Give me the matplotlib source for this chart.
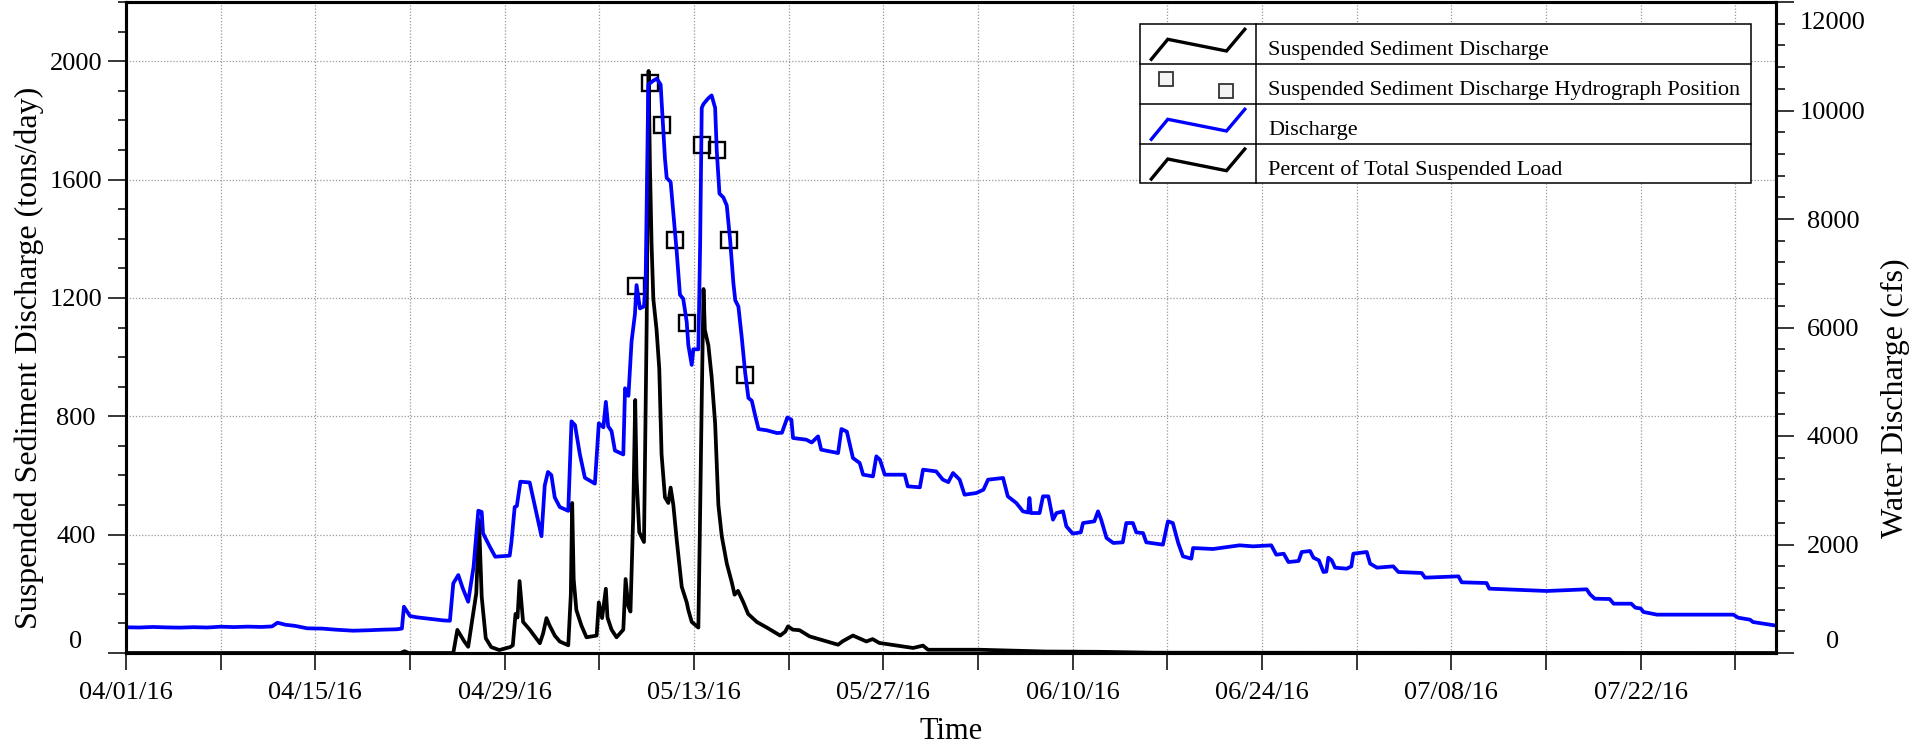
import numpy as np
import pandas as pd
import matplotlib
matplotlib.use("Agg")
import matplotlib.pyplot as plt
import matplotlib.dates as mdates
from matplotlib.ticker import FixedLocator, MultipleLocator, FuncFormatter
from matplotlib.lines import Line2D
from matplotlib.patches import Rectangle

plt.rcParams['font.family'] = ['Liberation Serif', 'DejaVu Serif']

# ---------------- data ----------------
start_date = pd.Timestamp('2016-04-01')
end_date = pd.Timestamp('2016-08-01')

# Water discharge (cfs): days since 04/01/16, value
q_days = [0, 1, 2, 3, 4, 5, 6, 7, 8, 9, 10, 10.8, 11.2, 11.8, 12.5, 13.4, 14.5, 15.5, 16.8, 18, 19, 20,
          20.4, 20.55, 20.8, 21, 21.5, 22.5, 23.5, 23.95, 24.2, 24.57, 24.9, 25.3, 25.7, 26.05, 26.3, 26.4,
          26.9, 27.3, 28.37, 28.5, 28.74, 28.9, 29.16, 29.85, 30.72, 30.96, 31.2, 31.45, 31.7, 32.07, 32.7,
          32.94, 33.2, 33.56, 33.93, 34.67, 34.96, 35.3, 35.48, 35.65, 35.9, 36.15, 36.77, 36.9, 37.15,
          37.38, 37.63, 37.75, 38.0, 38.3, 38.42, 38.62, 38.99, 39.25, 39.53, 39.85, 39.98, 40.27, 40.47,
          40.72, 40.96, 41.2, 41.46, 41.58, 41.83, 41.95, 42.32, 42.45, 42.57, 42.7, 43.06, 43.3, 43.56,
          43.68, 43.88, 44.17, 44.42, 44.67, 44.91, 45.05, 45.28, 45.53, 45.78, 46.02, 46.27, 46.52, 46.77,
          47.38, 48.12, 48.5, 48.9, 49.2, 49.32, 50.3, 50.7, 51.17, 51.4, 52.65, 52.9, 53.3, 53.75, 54.25,
          54.5, 55.23, 55.48, 55.75, 56.1, 57.58, 57.8, 58.7, 58.93, 59.9, 60.4, 60.8, 61.15, 61.64, 62.0,
          62.87, 63.4, 63.74, 64.85, 65.2, 65.83, 66.32, 66.7, 66.8, 66.9, 67.55, 67.8, 68.2, 68.54, 68.8,
          69.28, 69.53, 70.0, 70.6, 70.76, 71.6, 71.87, 72.1, 72.5, 73.0, 73.7, 73.96, 74.45, 74.7, 75.2,
          75.44, 76.67, 77.04, 77.4, 77.8, 78.15, 78.77, 78.9, 80.37, 82.34, 83.33, 84.68, 85.05, 85.6,
          85.95, 86.7, 86.93, 87.55, 87.8, 88.2, 88.54, 88.75, 88.9, 89.15, 89.4, 90.26, 90.6, 90.75,
          91.74, 91.99, 92.5, 93.7, 94.08, 95.8, 96.05, 98.52, 98.76, 100.6, 100.8, 105.05, 108.0, 108.25,
          108.6, 109.7, 110.0, 111.3, 111.6, 112.0, 112.2, 113.2, 118.85, 119.2, 120.08, 120.3, 121.9, 122]
q_cfs = [474, 470, 480, 472, 468, 476, 470, 485, 478, 486, 480, 490, 558, 520, 500, 455, 450, 430, 411, 420,
         430, 437, 450, 853, 760, 682, 658, 630, 600, 595, 1284, 1437, 1192, 945, 1590, 2623, 2600, 2206,
         1959, 1775, 1794, 2045, 2691, 2710, 3158, 3143, 2153, 3086, 3337, 3280, 2870, 2691, 2620,
         4270, 4200, 3660, 3230, 3122, 4234, 4160, 4629, 4180, 4091, 3732, 3660, 4880, 4740,
         5742, 6244, 6782, 6352, 6390, 6818, 10478, 10550, 10586, 10478, 9115, 8756, 8684, 8110,
         7392, 6603, 6530, 6100, 5670, 5311, 5598, 5598, 7500, 10048, 10120, 10227, 10278, 10048,
         9258, 8469, 8397, 8250, 7608, 6818, 6500, 6387, 5813, 5167, 4701, 4650, 4378, 4127,
         4105, 4055, 4060, 4342, 4300, 3963, 3932, 3880, 3994, 3748, 3686, 4129, 4080, 3594, 3502,
         3287, 3256, 3625, 3560, 3287, 3287, 3072, 3054, 3379, 3348, 3195, 3150, 3318, 3195, 2918,
         2949, 3010, 3195, 3226, 2888, 2765, 2611, 2590, 2857, 2580, 2580, 2888, 2888, 2458, 2580,
         2611, 2335, 2200, 2225, 2396, 2427, 2611, 2460, 2120, 2028, 2040, 2396, 2396, 2224, 2210,
         2040, 1997, 2427, 2396, 2028, 1782, 1739, 1935, 1917, 1985, 1966, 1985, 1812, 1830,
         1677, 1696, 1862, 1880, 1757, 1708, 1493, 1500, 1757, 1708, 1573, 1554, 1597, 1831,
         1862, 1647, 1573, 1597, 1493, 1475, 1389, 1413, 1303, 1290, 1186, 1143, 1174, 1081,
         1001, 995, 909, 909, 836, 820, 756, 707, 707, 651, 614, 571, 510, 505]

# Suspended sediment discharge (tons/day)
ssd_days = [0, 20.3, 20.6, 20.9, 24.2, 24.5, 25.0, 25.3, 25.6, 25.9, 26.1, 26.3, 26.6, 27.0, 27.6, 28.4,
            28.6, 28.8, 28.95, 29.1, 29.36, 29.85, 30.6, 30.84, 31.09, 31.3, 31.7, 32.07, 32.7, 32.89,
            32.99, 33.1, 33.3, 33.68, 34.05, 34.8, 34.96, 35.2, 35.48, 35.6, 35.9, 36.27, 36.77, 36.94,
            37.14, 37.3, 37.5, 37.65, 37.75, 37.95, 38.3, 38.5, 38.64, 38.74, 38.86, 38.99, 39.23, 39.43,
            39.6, 39.85, 40.1, 40.27, 40.47, 40.72, 41.09, 41.46, 41.58, 41.83, 42.32, 42.44, 42.57, 42.7,
            42.8, 43.06, 43.3, 43.56, 43.8, 44.05, 44.42, 44.8, 45.0, 45.25, 45.65, 46.0, 46.64, 47.38,
            48.37, 48.74, 48.95, 49.3, 49.8, 50.55, 52.65, 53.0, 53.75, 54.74, 55.2, 55.7, 58.2, 58.93,
            59.3, 63.1, 68, 72, 76, 122]
ssd_tons = [0, 0, 6, 0, 0, 78, 40, 21, 112, 202, 450, 190, 50, 20, 10, 20,
            26, 132, 120, 243, 105, 79, 33, 66, 118, 95, 59, 39, 26, 197,
            507, 250, 145, 92, 53, 59, 171, 118, 217, 120, 79, 53, 79, 250,
            158, 140, 460, 855, 592, 408, 375, 1118, 1967, 1645, 1382, 1197, 1092, 960,
            671, 526, 507, 559, 500, 382, 224, 171, 145, 105, 86, 441, 855, 1230,
            1092, 1040, 934, 776, 500, 395, 303, 237, 197, 210, 171, 132, 105, 86,
            59, 72, 90, 79, 77, 56, 28, 40, 59, 39, 47, 34, 17, 25,
            11, 11, 5, 4, 1, 0]

# Suspended sediment discharge hydrograph positions (tons/day)
pos_days = [37.7, 38.74, 39.65, 40.6, 41.5, 42.6, 43.7, 44.57, 45.8]
pos_tons = [1239, 1925, 1785, 1397, 1114, 1717, 1700, 1395, 941]

x_tick_labels = ['04/01/16', '04/15/16', '04/29/16', '05/13/16', '05/27/16',
                 '06/10/16', '06/24/16', '07/08/16', '07/22/16']
left_ticks = [0, 400, 800, 1200, 1600, 2000]
right_ticks = [0, 2000, 4000, 6000, 8000, 10000, 12000]
legend_labels = ['Suspended Sediment Discharge',
                 'Suspended Sediment Discharge Hydrograph Position',
                 'Discharge',
                 'Percent of Total Suspended Load']


def to_dates(days):
    return (start_date + pd.to_timedelta(np.asarray(days, dtype=float), unit='D')).to_numpy()


W, H = 1929, 742
fig = plt.figure(figsize=(W / 100, H / 100), dpi=100)
L, R, T, B = 126, 1776, 2, 653
ax = fig.add_axes([L / W, 1 - B / H, (R - L) / W, (B - T) / H])
ax2 = ax.twinx()

ax.plot(to_dates(ssd_days), ssd_tons, color='black', lw=2.7, solid_joinstyle='round')
ax.plot(to_dates(pos_days), pos_tons, ls='none', marker='s', ms=12, mfc='none', mec='black', mew=1.7)
ax2.plot(to_dates(q_days), q_cfs, color='#0000ff', lw=2.7, solid_joinstyle='round')

ax.set_xlim(start_date.to_numpy(), end_date.to_numpy())
ax.set_ylim(0, 2200)
ax2.set_ylim(0, 12000)

major_dates = pd.date_range(start_date, periods=len(x_tick_labels), freq='14D')
minor_dates = pd.date_range(start_date, end_date, freq='7D')
ax.xaxis.set_major_locator(FixedLocator(mdates.date2num(major_dates.to_pydatetime())))
ax.xaxis.set_minor_locator(FixedLocator(mdates.date2num(minor_dates.to_pydatetime())))
ax.xaxis.set_major_formatter(FuncFormatter(
    lambda v, p: x_tick_labels[p] if p is not None and p < len(x_tick_labels) else ''))

ax.yaxis.set_major_locator(FixedLocator(left_ticks))
ax.yaxis.set_minor_locator(MultipleLocator(100))
ax.yaxis.set_major_formatter(FuncFormatter(lambda v, p: '' if v == 0 else f'{v:.0f}'))
ax2.yaxis.set_major_locator(FixedLocator(right_ticks))
ax2.yaxis.set_minor_locator(MultipleLocator(400))
ax2.yaxis.set_major_formatter(FuncFormatter(lambda v, p: '' if v in (0, 12000) else f'{v:.0f}'))

gkw = dict(ls=(0, (1, 1.5)), color='#9a9a9a', lw=0.9)
ax.grid(True, which='major', axis='y', **gkw)
ax.grid(True, which='both', axis='x', **gkw)

ax.tick_params(axis='x', which='both', direction='out', length=12.2, width=1.1, pad=9.0,
               labelsize=19, colors='black')
ax.tick_params(axis='y', which='major', direction='out', length=13, width=1.1, pad=23, labelsize=19)
ax.tick_params(axis='y', which='minor', direction='out', length=5.8, width=1.1)
ax2.tick_params(axis='y', which='major', direction='out', length=13, width=1.1, pad=28, labelsize=19)
ax2.tick_params(axis='y', which='minor', direction='out', length=6.5, width=1.1)
for lbl in ax.get_yticklabels() + ax2.get_yticklabels():
    lbl.set_horizontalalignment('center')

for a in (ax, ax2):
    for s in a.spines.values():
        s.set_linewidth(2.2)

# end-of-axis labels shifted inward like the reference
fig.text(76 / W, 1 - 648 / H, '0', ha='center', va='baseline', fontsize=19)
fig.text(1833 / W, 1 - 648 / H, '0', ha='center', va='baseline', fontsize=19)
fig.text(1833 / W, 1 - 29 / H, '12000', ha='center', va='baseline', fontsize=19)

ax.set_ylabel('Suspended Sediment Discharge (tons/day)', fontsize=23)
ax.yaxis.set_label_coords(-0.0497, 0.453)
ax2.set_ylabel('Water Discharge (cfs)', fontsize=23)
ax2.yaxis.set_label_coords(1.0636, 0.392)
ax.set_xlabel('Time', fontsize=22)
ax.xaxis.set_label_coords(0.5, -0.098)

# ---------------- table-style legend ----------------
def fx(px):
    return px / W


def fy(py):
    return 1 - py / H


lx0, lx1, ldiv = 1139.6, 1751.0, 1255.6
rows = [24.3, 64.3, 104.3, 144.0, 182.7]
tf = fig.transFigure
fig.add_artist(Rectangle((fx(lx0), fy(rows[-1])), fx(lx1) - fx(lx0), fy(rows[0]) - fy(rows[-1]),
                         transform=tf, facecolor='white', edgecolor='black', lw=1.1, zorder=10))
fig.add_artist(Line2D([fx(ldiv), fx(ldiv)], [fy(rows[0]), fy(rows[-1])], transform=tf,
                      color='black', lw=1.1, zorder=11))
for ry in rows[1:-1]:
    fig.add_artist(Line2D([fx(lx0), fx(lx1)], [fy(ry), fy(ry)], transform=tf,
                          color='black', lw=1.1, zorder=11))

zig_dx = [1151.3, 1167.8, 1226.5, 1244.8]
zig_dy = [35, 15, 26.7, 5]
handle_styles = [dict(color='black'), None, dict(color='#0000ff'), dict(color='black')]
for i, (label, style) in enumerate(zip(legend_labels, handle_styles)):
    top = rows[i]
    if style is None:
        fig.add_artist(Line2D([fx(1165.7), fx(1225.7)], [fy(top + 14.7), fy(top + 26.4)], transform=tf,
                              ls='none', marker='s', ms=10, mfc='#f4f4f4', mec='#333333', mew=1.3,
                              zorder=12))
    else:
        fig.add_artist(Line2D([fx(x) for x in zig_dx], [fy(top + d) for d in zig_dy], transform=tf,
                              lw=2.4, zorder=12, solid_joinstyle='miter', **style))
    fig.text(fx(1268), fy(top + 31), label, ha='left', va='baseline', fontsize=16, zorder=12)

fig.savefig('out.png', dpi=100)
